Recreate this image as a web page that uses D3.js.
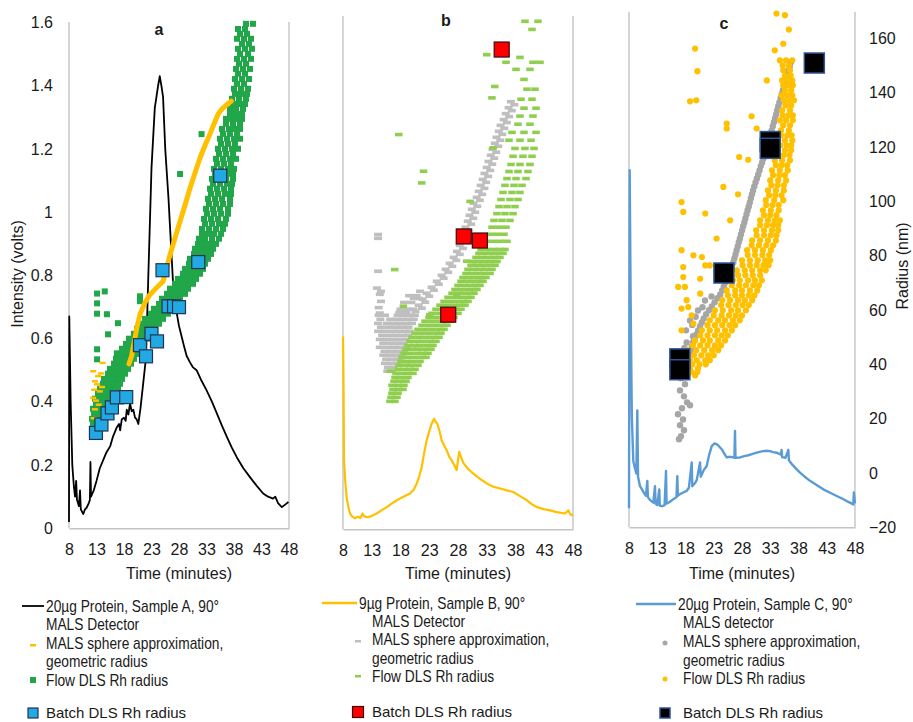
<!DOCTYPE html>
<html lang="en">
<head>
<meta charset="UTF-8" />
<title>MALS and DLS radius, samples A-C</title>
<script src="https://cdn.jsdelivr.net/npm/d3@7/dist/d3.min.js"></script>
<style>
  body { margin: 0; background: #ffffff; }
  svg text { font-family: "Liberation Sans", Arial, Helvetica, sans-serif; fill: #1a1a1a; }
</style>
</head>
<body>
<div id="chart"></div>
<script>
// ---- axis ticks
const timeTicks = [8, 13, 18, 23, 28, 33, 38, 43, 48];
const intensityTicks = [0, 0.2, 0.4, 0.6, 0.8, 1, 1.2, 1.4, 1.6];
const radiusTicks = [-20, 0, 20, 40, 60, 80, 100, 120, 140, 160];

// ---- sample A  ([time, volts] / [time, nm] / rows of [nm, time, time, ...])
const detectorA = [[8.0,0.02],[8.05,0.67],[8.3,0.40],[8.6,0.20],[8.9,0.13],[9.1,0.10],[9.3,0.15],[9.45,0.09],[9.8,0.07],[10.0,0.12],[10.15,0.06],[10.6,0.045],[10.9,0.06],[11.2,0.065],[11.6,0.08],[11.8,0.09],[11.9,0.21],[12.0,0.10],[12.5,0.12],[13.0,0.15],[13.6,0.19],[14.2,0.215],[14.8,0.24],[15.5,0.26],[16.0,0.29],[16.7,0.32],[17.1,0.33],[17.3,0.31],[17.6,0.345],[18.0,0.35],[18.3,0.34],[18.5,0.375],[18.8,0.36],[19.1,0.395],[19.4,0.37],[19.7,0.375],[20.0,0.35],[20.3,0.345],[20.6,0.33],[21.0,0.38],[21.5,0.46],[22.0,0.54],[22.4,0.785],[23.0,1.14],[23.6,1.33],[23.9,1.365],[24.2,1.40],[24.5,1.43],[24.8,1.40],[25.1,1.365],[25.5,1.20],[26.1,1.04],[26.5,0.91],[27.0,0.75],[27.6,0.68],[28.0,0.64],[28.5,0.605],[29.0,0.57],[29.4,0.545],[30.0,0.525],[30.5,0.51],[31.2,0.50],[32.0,0.47],[33.0,0.437],[34.0,0.40],[34.9,0.363],[35.8,0.325],[36.7,0.289],[37.6,0.255],[38.5,0.225],[39.7,0.19],[40.9,0.162],[42.1,0.135],[43.3,0.11],[44.2,0.10],[45.1,0.094],[45.5,0.10],[46.0,0.08],[46.7,0.067],[47.3,0.075],[47.9,0.083]];
const mallsALine = [[18.9,40.5],[19.4,43.5],[19.9,49],[20.4,54.5],[20.9,58.7],[21.8,63],[22.7,66],[23.9,68.5],[25.1,70.9],[25.7,75.5],[26.4,80.9],[27.3,87],[28.2,93],[29.1,99],[30.0,105.2],[30.9,110.8],[31.8,116.2],[32.7,120.8],[33.6,125],[34.4,129],[35.1,132.4],[35.8,134.3],[36.4,135.4],[37.0,136.5],[37.5,137.2]];
const mallsADashes = [[12.4,37.8],[12.7,34.1],[13.6,30.4],[12.4,28],[12.7,23.8],[14.1,40.9],[13.1,33],[12.6,31],[13.4,25.5],[13.8,37],[12.9,27],[14.0,32],[13.3,36],[12.5,20.5]];
const flowARows = [
  [16.6,12.18,13.09],[18.5,12.36,13.45],[20.3,12.18,13.09,14.0],[22.2,12.55,13.64,14.55],[24.0,12.36,13.45,14.36,15.09],
  [25.8,12.91,14.0,15.09],[27.7,12.73,13.82,14.91,16.0],[29.5,13.27,14.36,15.45,16.36],[31.4,13.64,14.73,15.82,16.91],
  [33.2,14.18,15.27,16.36,17.27],[35.0,14.36,15.45,16.55,17.64],[36.9,15.09,16.18,17.27,18.18],[38.7,15.45,16.55,17.64,18.73],
  [40.6,16.18,17.27,18.36,19.27],[42.4,16.55,17.64,18.73,19.82],[44.2,17.27,18.36,19.45,20.36],[46.1,17.64,18.73,19.82,20.91],
  [47.9,18.36,19.45,20.55,21.45],[49.8,18.91,20.0,21.09,22.18],[51.6,19.82,20.91,22.0,22.91],[53.4,20.36,21.45,22.55,23.64],
  [55.3,21.27,22.36,23.45,24.36],[57.1,21.82,22.91,24.0,25.09],[59.0,22.91,24.0,25.09,26.0],[60.8,23.45,24.55,25.64,26.73],
  [62.6,24.36,25.45,26.55,27.45],[64.5,24.91,26.0,27.09,28.18],[66.3,25.82,26.91,28.0,29.09],[68.2,26.36,27.45,28.55,29.64],
  [70.0,27.27,28.36,29.45,30.55],[71.8,27.82,28.91,30.0,31.09],[73.7,28.73,29.82,30.91,31.82],[75.5,29.09,30.18,31.27,32.36],
  [77.4,29.82,30.91,32.0,32.73],[79.2,30.0,31.09,32.18,33.27],[81.0,30.73,31.82,32.91,33.82],[82.9,30.91,32.0,33.09,34.18],
  [84.7,31.45,32.55,33.64,34.73],[86.6,31.64,32.73,34.0,35.27],[88.4,32.18,33.27,34.36,35.64],[90.2,32.18,33.45,34.73,36.0],
  [92.1,32.73,34.0,35.27,36.36],[93.9,32.55,33.82,35.09,36.55],[95.8,33.09,34.36,35.64,36.91],[97.6,32.91,34.18,35.45,36.91],
  [99.4,33.45,34.73,36.0,37.27],[101.3,33.27,34.55,35.82,37.27],[103.1,33.82,35.09,36.36,37.45],[105.0,33.64,34.91,36.18,37.45],
  [106.8,34.18,35.45,36.73,37.64],[108.6,34.0,35.27,36.55,37.82],[110.5,34.55,35.82,37.09,37.82],[112.3,34.36,35.64,36.91,38.0],
  [114.2,34.91,36.18,37.45],[116.0,34.73,36.0,37.27,38.36],[117.8,35.27,36.55,37.82],[119.7,35.09,36.36,37.64,38.73],
  [121.5,35.64,36.91,38.18],[123.4,35.45,36.73,38.0,39.09],[125.2,36.0,37.27,38.55],[127.0,35.82,37.09,38.18,39.09],
  [128.9,36.55,37.82,39.09],[130.7,36.55,37.64,38.55,39.45],[132.6,37.27,38.36,39.45],[134.4,37.27,38.36,39.64],
  [136.2,37.82,38.91,40.0],[138.1,37.64,38.91,40.18],[139.9,38.18,39.27,40.36],[141.8,38.0,39.27,40.55],[143.6,38.55,39.82],
  [145.4,38.18,39.45,40.73],[147.3,38.73,40.0],[149.1,38.36,39.64,40.91],[151.0,38.91,40.18],[152.8,38.55,39.82,41.09],
  [154.6,39.09,40.55],[156.5,38.73,40.0,41.27],[158.3,39.45,40.73],[160.2,38.55,39.82,41.09],[162.0,39.09,40.36],
  [163.8,38.73,40.0],[165.7,40.18,41.45],
  [66.4,13.1],[67.2,14.5],[62.8,13.1],[58.8,14.9],[55.5,16.9],[59.0,13.1],[51.4,15.1],[45.9,13.1],[44.4,16.7],[42.2,13.1],
  [65.4,20.9],[63.6,20.9],[110.4,28.2],[125.1,32.1]
];
const batchA = [[12.9,15.1],[13.9,18.2],[15.0,22.3],[15.8,24.5],[16.7,28.2],[18.4,28.3],[20.9,47.4],[22.0,43.3],[23.0,51.6],[24.0,48.8],[25.0,75.0],[26.1,61.7],[27.1,61.7],[28.0,61.4],[31.5,78.0],[35.5,109.8]];

// ---- sample B
const detectorB = [[8.0,0.61],[8.1,0.45],[8.17,0.22],[8.4,0.15],[8.64,0.10],[9.0,0.065],[9.22,0.05],[9.6,0.04],[10.09,0.035],[10.6,0.04],[11.0,0.036],[11.4,0.05],[11.53,0.044],[12.1,0.038],[12.7,0.04],[13.3,0.045],[13.86,0.05],[14.7,0.06],[15.6,0.07],[16.5,0.082],[17.34,0.092],[18.5,0.103],[19.65,0.113],[20.3,0.125],[20.82,0.145],[21.3,0.17],[21.69,0.197],[22.1,0.24],[22.56,0.282],[23.0,0.31],[23.43,0.335],[23.83,0.35],[24.1,0.34],[24.4,0.334],[24.8,0.31],[25.17,0.28],[25.6,0.265],[26.03,0.25],[26.5,0.228],[26.9,0.218],[27.3,0.205],[27.77,0.187],[28.0,0.22],[28.2,0.245],[28.5,0.23],[28.92,0.21],[29.8,0.19],[30.66,0.176],[31.8,0.16],[33.0,0.145],[34.1,0.135],[35.3,0.129],[36.5,0.123],[37.6,0.118],[38.8,0.105],[39.95,0.092],[40.8,0.08],[41.7,0.07],[42.9,0.064],[44.0,0.06],[45.0,0.055],[45.7,0.053],[46.6,0.05],[47.2,0.06],[47.5,0.048],[48.0,0.044]];
const mallsBRows = [
  [137.4,37.2],[136.3,37.8],[135.2,36.8],[134.1,37.35],[133.0,36.3],[131.9,36.9],[130.8,35.95],[129.7,36.5],[128.7,35.4],
  [127.6,36.05],[126.5,35.1],[125.4,35.7],[124.3,34.7],[123.2,35.35],[122.1,34.4],[121.0,35.0],[119.9,34.0],[118.8,34.65],
  [117.7,33.7],[116.6,34.3],[115.4,33.3],[114.4,33.95],[113.2,33.0],[112.1,33.6],[111.0,32.6],[109.9,33.25],[108.8,32.3],
  [107.7,32.9],[106.6,31.95],[105.5,32.6],[104.4,31.6],[103.3,32.2],[102.2,31.25],[101.1,31.8],[100.0,30.7],[98.9,31.35],
  [97.8,30.4],[96.7,31.0],[95.6,30.0],[94.5,30.65],[93.4,29.7],[92.3,30.3],[91.2,29.3],[90.1,29.95],[89.0,29.0],[87.9,29.6],
  [86.7,28.6],[85.6,29.25],[84.5,28.3],[83.4,28.85],[82.3,27.8],[81.2,28.3],[80.1,27.25],[79.0,27.7],[77.9,26.55],[76.8,27.0],
  [75.7,25.85],[74.6,26.3],[73.5,25.15],[72.4,25.5],[71.3,24.3],[70.2,24.65],[69.1,23.4],[68.0,23.8],[66.9,22.55],[65.8,23.0],
  [64.7,21.85],[63.6,22.3],[62.5,21.15],[61.4,21.7],[60.2,20.6],
  [66.0,19.5,20.8],[63.5,18.6,19.9],[61.0,18.0,19.3,20.2],[59.8,17.8,19.0],
  [58.8,14.2,15.3,17.5,18.6,19.7,20.5],[57.3,14.5,16.2,17.3,18.4,19.5,20.3],[55.8,14.1,15.6,16.8,17.9,19.0,20.0],
  [54.4,14.6,16.0,17.2,18.3,19.4],[52.9,14.1,15.3,16.6,17.7,18.8,19.6],[51.4,14.8,16.1,17.2,18.4,19.3],
  [49.9,14.4,15.6,16.7,17.8,18.9],[48.5,15.0,16.2,17.3,18.5],[47.0,14.4,15.7,16.9,18.1,19.0],[45.5,15.2,16.4,17.6,18.6],
  [44.1,15.0,16.1,17.2,18.2],[42.6,15.5,16.6,17.7],[41.1,15.3,16.3,17.3],[39.6,15.8,16.8],[38.2,15.7,16.6],
  [88.5,14.1],[87.1,14.1],[75.0,14.1],[68.8,13.9],[66.5,14.4],[63.9,14.6],[61.6,14.2],[59.6,14.4],[67.6,14.6,21.4],[65.0,20.3,21.2]
];
const flowBRows = [
  [27.1,16.17,17.04],[28.6,16.35,17.39],[30.1,16.52,17.57],[31.5,16.7,17.74,18.43],[33.0,16.52,17.57,18.6],
  [34.5,16.87,17.91,18.96],[35.9,17.04,18.09,19.3],[37.4,17.22,18.26,19.3,20.17],[38.9,17.57,18.6,19.65,20.52],
  [40.4,17.74,18.78,19.83,21.04],[41.8,18.09,19.13,20.17,21.39],[43.3,18.26,19.3,20.52,21.74,22.43],
  [44.8,18.6,19.65,20.87,21.91,22.78],[46.3,18.96,20.0,21.04,22.26,23.3],[47.7,19.3,20.35,21.39,22.61,23.65],
  [49.2,19.65,20.87,21.91,23.13,24.17],[50.7,20.0,21.22,22.43,23.65,24.7],[52.2,20.52,21.74,22.96,24.17,25.04],
  [53.6,21.04,22.26,23.48,24.7,25.57],[55.1,21.74,22.96,24.17,25.39,26.09],[56.6,22.26,23.48,24.7,25.74,26.61],
  [58.0,22.96,24.17,25.39,26.43,27.3],[59.5,23.48,24.7,25.91,26.96,28.0],[61.0,24.17,25.39,26.61,27.65,28.52],
  [62.5,24.87,26.09,27.3,28.35,29.22],[63.9,25.57,26.78,28.0,29.04,29.74],[65.4,26.26,27.48,28.52,29.57,30.26],
  [66.9,26.96,28.0,29.04,30.09,30.78],[68.3,27.48,28.52,29.57,30.61,31.3],[69.8,28.0,29.04,30.09,31.13,31.83],
  [71.3,28.52,29.57,30.61,31.65,32.35],[72.7,28.87,29.91,30.96,32.0,32.87],[74.2,29.39,30.43,31.48,32.52,33.57],
  [75.7,29.74,30.78,31.83,32.87,33.91],[77.2,30.26,31.3,32.35,33.39,34.43],[78.6,30.61,31.65,32.7,33.74,34.78],
  [80.1,31.13,32.17,33.22,34.26,35.3],[81.6,31.65,32.7,33.74,34.78,35.83],[83.0,32.0,33.22,34.26,35.3,36.17],
  [86.0,32.87,34.09,35.3,36.52],[88.6,33.57,34.78,36.0],[91.2,33.91,35.13,36.35],[93.7,34.26,35.65,37.04],
  [96.2,34.78,36.17,37.57],[98.8,35.13,36.52,37.91],[101.4,35.48,37.04,38.43],[104.0,35.83,37.39,38.78],
  [106.6,36.17,37.74,39.13],[109.1,36.52,38.09,39.83],[111.7,36.87,38.43,40.17],[114.3,37.22,38.78,40.52],
  [117.3,37.57,39.3,40.87],[120.2,37.91,39.65,41.22],[123.2,36.87,38.78,40.7],[126.1,37.39,39.48,41.57],
  [129.1,38.43,40.52],[132.1,38.78,41.04],[135.0,39.48,41.57],[138.3,38.96,40.87],[142.0,40.0,41.39],[145.6,39.48],
  [149.3,38.09,40.52],[151.9,36.35,41.04,42.26],[153.7,38.78],[164.0,40.87],[167.0,39.65,41.91],
  [125.3,17.7],[111.8,22.0],[107.5,21.7],[75.6,17.0],[154.7,33.0],[138.8,33.9],[143.0,34.4],[100.7,30.1],[78.7,29.5],
  [120.4,34.1],[62.1,18.5],[59.0,23.1],[66.4,27.8],[38.2,16.2]
];
const batchB = [[35.6,156.6],[29.0,87.8],[31.8,86.3],[26.3,59.0]];

// ---- sample C
const detectorC = [[8.0,0.06],[8.12,1.13],[8.3,0.70],[8.5,0.35],[8.76,0.21],[9.0,0.19],[9.3,0.17],[9.47,0.37],[9.6,0.16],[9.95,0.13],[10.3,0.12],[10.6,0.11],[11.0,0.10],[11.24,0.147],[11.35,0.095],[11.8,0.085],[12.3,0.078],[12.6,0.13],[12.7,0.075],[13.0,0.07],[13.36,0.12],[13.45,0.068],[13.9,0.067],[14.3,0.07],[14.55,0.178],[14.65,0.075],[15.2,0.08],[15.84,0.089],[16.4,0.095],[16.55,0.162],[16.65,0.1],[17.03,0.105],[17.6,0.11],[18.2,0.115],[18.6,0.125],[19.1,0.205],[19.2,0.13],[19.7,0.14],[20.0,0.15],[20.57,0.205],[20.7,0.16],[21.2,0.18],[21.75,0.194],[22.2,0.23],[22.64,0.257],[23.1,0.265],[23.52,0.263],[24.0,0.255],[24.41,0.247],[24.8,0.235],[25.29,0.221],[25.9,0.223],[26.46,0.221],[26.65,0.22],[26.76,0.305],[26.85,0.22],[27.65,0.221],[28.4,0.225],[29.12,0.228],[29.9,0.232],[30.6,0.236],[31.5,0.24],[32.3,0.242],[32.96,0.241],[33.5,0.238],[34.14,0.236],[34.9,0.23],[35.0,0.245],[35.1,0.222],[35.7,0.22],[36.2,0.245],[36.3,0.212],[36.9,0.198],[37.6,0.185],[38.27,0.173],[39.1,0.16],[40.04,0.147],[41.2,0.134],[42.39,0.12],[43.5,0.11],[44.76,0.099],[45.6,0.092],[46.53,0.083],[47.1,0.078],[47.7,0.072],[47.8,0.11],[48.0,0.076]];
const mallsCRows = [
  [151.2,36.67],[149.7,36.46],[148.2,36.26],[146.7,36.05],[145.3,35.86],[143.8,35.65],[142.3,35.43],[140.9,35.24],
  [139.4,35.03],[137.9,34.83],[136.4,34.62],[135.0,34.42],[133.5,34.23],[132.0,34.04],[130.5,33.84],[129.1,33.65],
  [127.6,33.45],[126.1,33.24],[124.6,33.04],[123.2,32.85],[121.7,32.65],[120.2,32.46],[118.8,32.25],[117.3,32.02],
  [115.8,31.79],[114.3,31.56],[112.9,31.33],[111.4,31.1],[109.9,30.87],[108.4,30.64],[107.0,30.41],[105.5,30.18],
  [104.0,29.96],[102.6,29.77],[101.1,29.58],[99.6,29.38],[98.1,29.19],[96.7,28.99],[95.2,28.8],[93.7,28.6],[92.2,28.41],
  [90.8,28.21],[89.3,28.02],[87.8,27.82],[86.3,27.63],[84.9,27.43],[83.4,27.24],[81.9,27.04],[80.4,26.85],[79.0,26.65],
  [77.5,26.46],[76.0,26.19],[74.6,25.91],[73.1,25.63],[71.7,25.35],[70.2,25.06],[68.7,24.78],[67.2,24.5],[65.7,24.14],
  [64.3,23.65],[62.8,23.15],[61.3,22.65],[59.9,22.16],[58.4,21.66],[56.9,21.22],[55.5,20.9],[54.0,20.57],[52.5,20.25],
  [51.0,19.93],[49.6,19.61],[48.1,19.35],[46.6,19.13],[45.2,18.92],[43.7,18.71],[42.2,18.5],
  [63.5,21.45],[59.8,20.21],[56.1,18.8],[52.5,18.09],[50.3,19.33],[65.0,22.6],[61.0,21.0],[57.5,19.8],[54.5,19.2],[48.0,18.2],[46.0,17.8],
  [40.7,18.09],[38.5,17.56],[37.0,18.44],[34.9,17.2],[32.7,17.91],[30.4,17.03],[28.2,17.73],[26.0,18.27],[24.9,18.8],
  [23.8,17.38],[21.6,16.67],[19.7,17.56],[17.6,17.03],[15.7,17.73],[13.5,17.2],[12.4,16.85]
];
const flowCRows = [
  [151.9,34.7,35.8,36.9],[150.0,35.2,36.3],[148.2,35.3,36.5],[146.3,35.6,36.6],[144.5,35.1,36.1,36.9],[142.7,35.3,36.3,37.0],
  [140.8,35.6,36.7],[139.0,35.0,36.0,36.9],[137.2,35.4,36.3,37.2],[135.3,35.7,36.7],[133.5,35.1,36.5],[131.6,35.2,36.2,37.0],
  [129.8,34.7,35.8,37.0],[128.0,35.3,36.5],[126.1,34.9,36.3],[124.3,34.9,36.0,36.8],[122.4,34.4,35.6,36.9],[120.6,34.8,35.9,36.7],
  [118.8,34.2,35.6,36.7],[117.0,34.4,35.4,36.4],[115.1,33.8,35.1,36.5],[113.3,34.0,35.0,36.0],[111.4,33.3,34.7,36.1],
  [109.6,33.5,34.6,35.6],[107.7,33.0,34.4,35.8],[105.9,33.2,34.3,35.4],[104.0,32.6,34.0,35.4],[102.2,32.8,33.9,35.0],
  [100.4,32.2,33.7,35.3],[98.6,32.3,33.4,34.5],[96.7,31.7,33.1,34.5],[94.9,31.9,33.0,34.1],[93.0,31.2,32.6,33.8,34.7],
  [91.2,31.2,32.4,33.5,34.4],[89.3,30.5,31.9,33.3,34.4],[87.5,30.6,31.9,33.1,34.1],[85.6,29.8,31.2,32.6,34.0],
  [83.8,29.7,31.0,32.3,33.5],[82.0,28.9,30.3,31.7,33.1],[80.2,29.0,30.3,31.6,32.8],[78.3,28.0,29.4,30.8,32.1,33.0],
  [76.5,28.1,29.4,30.6,31.8,32.7],[74.6,27.1,28.5,29.8,31.2,32.2],[72.8,27.3,28.6,29.9,31.2],[70.9,26.4,27.6,29.1,30.3,31.5],
  [69.1,26.2,27.5,28.7,30.0,31.0],[67.2,25.3,26.8,28.0,29.4,30.7],[65.4,25.5,26.8,28.0,29.2,30.2],[63.6,24.5,25.9,27.3,28.5,29.8],
  [61.8,24.3,25.6,26.9,28.1,29.2],[59.9,23.2,24.6,26.1,27.3,28.7],[58.0,23.0,24.4,25.7,26.9,28.0],[56.2,22.3,23.8,25.0,26.4,27.6],
  [54.4,21.9,23.2,24.5,25.8,26.8],[52.5,20.9,22.3,23.6,25.0,26.2],[50.7,20.6,21.9,23.2,24.4,25.5],[48.8,19.7,21.1,22.3,23.8,25.0],
  [47.0,19.3,20.6,21.9,23.2,24.3],[45.2,18.4,19.9,21.3,22.7,23.8],[43.3,18.2,19.5,20.8,22.0,23.0],[41.5,17.6,18.8,20.0,21.5,22.3],
  [40.0,17.8,19.2,20.5,21.6],[38.5,17.4,18.8,20.2],[37.2,17.6,19.0,20.1],[35.9,17.0,18.4,19.7],
  [156.2,19.7],[147.9,20.1],[136.8,18.8],[137.2,19.9],[128.6,25.3],[126.8,25.3,30.6],[131.3,29.7],[116.3,27.5],[115.3,29.1],
  [144.5,32.4],[155.6,33.8],[169.1,34.1],[168.5,35.6],[163.2,36.3],[158.0,35.3],[99.7,17.3],[96.1,17.6],[95.5,21.5],
  [105.3,24.7],[102.6,27.3],[93.0,25.9],[86.3,23.5],[82.0,17.3],[80.1,19.4],[79.5,20.9],[76.4,21.5,22.3],[75.8,17.6],
  [72.1,17.6],[68.5,17.9,16.7],[71.5,20.6],[61.1,18.5],[60.5,17.3],[58.0,19.1],[52.5,17.3],[55.0,19.4],[63.6,18.2],[66.0,20.6]
];
const batchC = [[40.8,150.9],[33.0,122],[33.0,119.5],[24.8,73.6],[17.0,42],[17.0,38]];

// ---- legend labels
const legendA = ["20µg Protein, Sample A, 90°", "MALS Detector", "MALS sphere approximation,", "geometric radius", "Flow DLS Rh radius", "Batch DLS Rh radius"];
const legendB = ["9µg Protein, Sample B, 90°", "MALS Detector", "MALS sphere approximation,", "geometric radius", "Flow DLS Rh radius", "Batch DLS Rh radius"];
const legendC = ["20µg Protein, Sample C, 90°", "MALS detector", "MALS sphere approximation,", "geometric radius", "Flow DLS Rh radius", "Batch DLS Rh radius"];

const FONT = '"Liberation Sans", Arial, Helvetica, sans-serif';
const rowsToPoints = (rows) => rows.flatMap(([r, ...ts]) => ts.map((t) => [t, r]));

const svg = d3.select("#chart").append("svg").attr("width", 913).attr("height", 722);

function makePanel(p) {
  const x = d3.scaleLinear().domain([8, 48]).range([p.left, p.right]);
  const yI = d3.scaleLinear().domain([0, 1.6]).range([p.bottom, p.bottom - 505.8]);
  const yR = d3.scaleLinear().domain([-20, 160]).range([p.bottom, p.bottom - 489]);
  const g = svg.append("g");

  // side lines of the plot box
  [p.left, p.right].forEach((lx) => {
    g.append("line").attr("x1", lx).attr("x2", lx).attr("y1", p.top).attr("y2", p.bottom)
      .attr("stroke", "#c4c4c4").attr("stroke-width", 1.4);
  });

  const xAxis = g.append("g").attr("transform", `translate(0,${p.bottom})`)
    .call(d3.axisBottom(x).tickValues(timeTicks).tickSizeInner(0).tickSizeOuter(0).tickPadding(15));
  xAxis.select(".domain").attr("stroke", "#c4c4c4").attr("stroke-width", 1.4);
  xAxis.selectAll("text").attr("font-size", 16).attr("font-family", FONT).attr("fill", "#1a1a1a");

  g.append("text").attr("x", (p.left + p.right) / 2).attr("y", 579)
    .attr("text-anchor", "middle").attr("font-size", 16).text("Time (minutes)");
  g.append("text").attr("x", p.titleX).attr("y", p.titleY).attr("dy", "0.35em")
    .attr("text-anchor", "middle").attr("font-size", 16).attr("font-weight", "bold").text(p.key);

  return { g, x, yI, yR };
}

function traceLine(P, data, color, width) {
  P.g.append("path").datum(data).attr("fill", "none").attr("stroke", color)
    .attr("stroke-width", width).attr("stroke-linejoin", "round")
    .attr("d", d3.line().x((d) => P.x(d[0])).y((d) => P.yI(d[1])));
}
function rects(P, pts, w, h, fill, stroke, sw) {
  P.g.append("g").selectAll("rect").data(pts).join("rect")
    .attr("x", (d) => P.x(d[0]) - w / 2).attr("y", (d) => P.yR(d[1]) - h / 2)
    .attr("width", w).attr("height", h).attr("fill", fill)
    .attr("stroke", stroke || "none").attr("stroke-width", sw || 0);
}
function dots(P, pts, rad, fill) {
  P.g.append("g").selectAll("circle").data(pts).join("circle")
    .attr("cx", (d) => P.x(d[0])).attr("cy", (d) => P.yR(d[1])).attr("r", rad).attr("fill", fill);
}

// ---- panel a
const A = makePanel({ key: "a", left: 69, right: 289, top: 22, bottom: 528.3, titleX: 159, titleY: 29 });
traceLine(A, detectorA, "#000000", 1.8);
rects(A, rowsToPoints(flowARows), 6, 6, "#21a649");
rects(A, mallsADashes, 6, 2.5, "#ffc000");
A.g.append("path").datum(mallsALine).attr("fill", "none").attr("stroke", "#ffc000")
  .attr("stroke-width", 5).attr("stroke-linecap", "round").attr("stroke-linejoin", "round")
  .attr("d", d3.line().x((d) => A.x(d[0])).y((d) => A.yR(d[1])));
rects(A, batchA, 13, 13, "#22a8e2", "#1f3552", 1.2);

const leftAxis = A.g.append("g").attr("transform", "translate(69,0)")
  .call(d3.axisLeft(A.yI).tickValues(intensityTicks).tickSizeInner(0).tickSizeOuter(0).tickPadding(16).tickFormat(d3.format("~g")));
leftAxis.select(".domain").remove();
leftAxis.selectAll("text").attr("font-size", 16).attr("font-family", FONT).attr("fill", "#1a1a1a");
A.g.append("text").attr("transform", "translate(17,274) rotate(-90)").attr("dy", "0.35em")
  .attr("text-anchor", "middle").attr("font-size", 16).text("Intensity (volts)");

// ---- panel b
const B = makePanel({ key: "b", left: 343, right: 573, top: 16, bottom: 529.3, titleX: 446, titleY: 20 });
traceLine(B, detectorB, "#ffc000", 2.2);
rects(B, rowsToPoints(mallsBRows), 8, 3.6, "#bfbfbf");
rects(B, rowsToPoints(flowBRows), 7.5, 3.6, "#8fce4e");
rects(B, batchB, 15, 15, "#ff0000", "#3a0a0a", 1.2);

// ---- panel c
const C = makePanel({ key: "c", left: 629, right: 855, top: 12, bottom: 527.3, titleX: 724, titleY: 23 });
traceLine(C, detectorC, "#5b9bd5", 2.4);
dots(C, rowsToPoints(mallsCRows), 3.2, "#a6a6a6");
dots(C, rowsToPoints(flowCRows), 3.1, "#ffc000");
rects(C, batchC, 20, 20, "#000000", "#2f5597", 1.5);

const rightAxis = C.g.append("g").attr("transform", "translate(855,0)")
  .call(d3.axisRight(C.yR).tickValues(radiusTicks).tickSizeInner(0).tickSizeOuter(0).tickPadding(14));
rightAxis.select(".domain").remove();
rightAxis.selectAll("text").attr("font-size", 16).attr("font-family", FONT).attr("fill", "#1a1a1a");
C.g.append("text").attr("transform", "translate(902,266) rotate(-90)").attr("dy", "0.35em")
  .attr("text-anchor", "middle").attr("font-size", 16).text("Radius (nm)");

// ---- legends (upper entries use a narrowed face, as in the figure)
function legend(labels, L) {
  const g = svg.append("g");
  const put = (x, y, s, narrow) => g.append("text")
    .attr("transform", `translate(${x},${y}) scale(${narrow ? 0.86 : 1},1)`)
    .attr("dy", "0.35em").attr("font-size", narrow ? 16 : 15).text(s);
  g.append("line").attr("x1", L.line[0]).attr("x2", L.line[1]).attr("y1", L.rows[0]).attr("y2", L.rows[0])
    .attr("stroke", L.lineColor).attr("stroke-width", L.lineWidth);
  put(L.first, L.rows[0], labels[0], true);
  labels.slice(1).forEach((s, i) => put(L.text, L.rows[i + 1], s, i < 4));
  L.marks(g, L.mark, L.rows);
}

legend(legendA, {
  line: [22, 44], first: 46, text: 46, mark: 33, rows: [606, 624, 643, 661, 680, 713],
  lineColor: "#000", lineWidth: 1.8,
  marks: (g, mx, r) => {
    g.append("rect").attr("x", mx - 3).attr("y", r[2] + 1).attr("width", 6).attr("height", 2.5).attr("fill", "#ffc000");
    g.append("rect").attr("x", mx - 3).attr("y", r[4] - 3).attr("width", 6).attr("height", 6).attr("fill", "#21a649");
    g.append("rect").attr("x", mx - 5).attr("y", r[5] - 5).attr("width", 10).attr("height", 10)
      .attr("fill", "#22a8e2").attr("stroke", "#1f3552").attr("stroke-width", 1.2);
  },
});
legend(legendB, {
  line: [322, 357], first: 359, text: 372, mark: 358, rows: [603, 621, 639, 658, 676, 712],
  lineColor: "#ffc000", lineWidth: 2.4,
  marks: (g, mx, r) => {
    g.append("rect").attr("x", mx - 3).attr("y", r[2] + 1).attr("width", 6).attr("height", 2.5).attr("fill", "#bfbfbf");
    g.append("rect").attr("x", mx - 3).attr("y", r[4] - 1).attr("width", 6).attr("height", 2.5).attr("fill", "#8fce4e");
    g.append("rect").attr("x", mx - 5.5).attr("y", r[5] - 5.5).attr("width", 11).attr("height", 11)
      .attr("fill", "#ff0000").attr("stroke", "#3a0a0a").attr("stroke-width", 1.2);
  },
});
legend(legendC, {
  line: [636, 676], first: 678, text: 683, mark: 665, rows: [604, 622, 641, 660, 678, 713],
  lineColor: "#5b9bd5", lineWidth: 2.6,
  marks: (g, mx, r) => {
    g.append("circle").attr("cx", mx).attr("cy", r[2] + 2).attr("r", 2.5).attr("fill", "#a6a6a6");
    g.append("circle").attr("cx", mx).attr("cy", r[4] + 1).attr("r", 2.5).attr("fill", "#ffc000");
    g.append("rect").attr("x", mx - 5).attr("y", r[5] - 5).attr("width", 10).attr("height", 10)
      .attr("fill", "#000").attr("stroke", "#2f5597").attr("stroke-width", 1.5);
  },
});
</script>
</body>
</html>
